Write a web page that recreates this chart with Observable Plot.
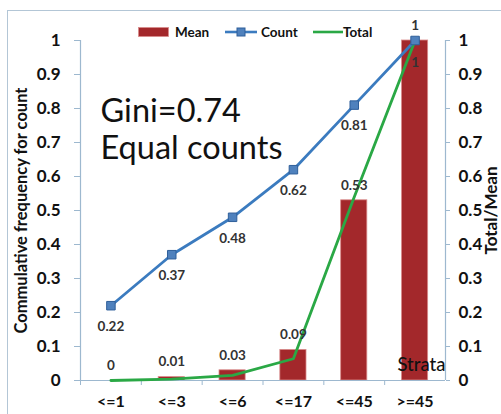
<!DOCTYPE html>
<html><head><meta charset="utf-8">
<script src="https://cdn.jsdelivr.net/npm/d3@7"></script>
<script src="https://cdn.jsdelivr.net/npm/@observablehq/plot@0.6"></script>
<style>
body{margin:0;background:#fff;}
#wrap{position:relative;width:501px;height:414px;overflow:hidden;font-family:Lato,"Open Sans",sans-serif;}
#wrap svg.plot{position:absolute;left:0;top:0;}
#border{position:absolute;left:7px;top:10px;width:520px;height:420px;border:1px solid #b3c6d6;box-sizing:border-box;}
.lg{position:absolute;font-weight:bold;font-size:13.5px;color:#111;line-height:16px;top:24px;}
.sw{position:absolute;top:25px;}
</style></head>
<body>
<div id="wrap">
  <div id="border"></div>
</div>
<script>
const strata = ["<=1", "<=3", "<=6", "<=17", "<=45", ">=45"];
const meanValues = [0, 0.01, 0.03, 0.09, 0.53, 1];
const countValues = [0.22, 0.37, 0.48, 0.62, 0.81, 1];
const totalValues = [0, 0.004, 0.015, 0.064, 0.54, 1];
const yTicks = [0, 0.1, 0.2, 0.3, 0.4, 0.5, 0.6, 0.7, 0.8, 0.9, 1];

const data = strata.map((s, i) => ({strata: s, mean: meanValues[i], count: countValues[i], total: totalValues[i]}));

const W = 501, H = 414, ML = 80, MR = 56, MT = 40, MB = 34;
const step = (W - ML - MR) / strata.length;
const axisColor = "#9db8cf";
const barColor = "#a3282b";
const countColor = "#3b7bbf";
const totalColor = "#2aa845";
const labelColor = "#333";

const chart = Plot.plot({
  width: W, height: H,
  marginLeft: ML, marginRight: MR, marginTop: MT, marginBottom: MB,
  style: {fontFamily: "Lato, 'Open Sans', sans-serif", fontSize: "12px", color: "#111", background: "transparent"},
  x: {type: "band", domain: strata, paddingInner: 0.57, paddingOuter: 0.285, round: false, axis: null},
  y: {domain: [0, 1], axis: null},
  marks: [
    Plot.barY(data, {x: "strata", y: "mean", fill: barColor, stroke: "#d98c8c", strokeWidth: 0.8}),
    Plot.ruleY([0], {stroke: axisColor, strokeWidth: 1.2}),
    Plot.ruleX([strata[0]], {dx: -step / 2, stroke: axisColor, strokeWidth: 1.2}),
    Plot.ruleX([strata[strata.length - 1]], {dx: step / 2, stroke: axisColor, strokeWidth: 1.2}),
    Plot.axisY({anchor: "left", ticks: yTicks, tickFormat: d => String(d), tickSize: 6, tickPadding: 14, fontWeight: "bold", fontSize: 17, stroke: axisColor, label: null}),
    Plot.axisY({anchor: "right", ticks: yTicks, tickFormat: d => String(d), tickSize: 4, tickPadding: 9, fontWeight: "bold", fontSize: 17, stroke: axisColor, label: null}),
    Plot.axisX({tickSize: 0, tickPadding: 15, fontWeight: "bold", fontSize: 16, label: null}),
    Plot.axisX({tickSize: 5, tickFormat: () => "", dx: -step / 2, stroke: axisColor, label: null}),
    Plot.line(data, {x: "strata", y: "total", stroke: totalColor, strokeWidth: 2.8}),
    Plot.line(data, {x: "strata", y: "count", stroke: countColor, strokeWidth: 2.8}),
    Plot.dot(data, {x: "strata", y: "count", symbol: "square", r: 4.8, fill: "#4f81bd", stroke: "#2f5f9a", strokeWidth: 1}),
    Plot.text(data, {filter: d => d.count < 1, x: "strata", y: "count", text: d => String(d.count), dy: 21, fill: labelColor, fontWeight: "bold", fontSize: 13.5}),
    Plot.text(data, {filter: d => d.count === 1, x: "strata", y: "count", text: d => String(d.count), dy: -15, fill: labelColor, fontWeight: "bold", fontSize: 13.5}),
    Plot.text(data, {filter: d => d.mean < 1, x: "strata", y: "mean", text: d => String(d.mean), dy: -15, fill: labelColor, fontWeight: "bold", fontSize: 13.5}),
    Plot.text(data, {filter: d => d.mean === 1, x: "strata", y: "mean", text: d => String(d.mean), dy: 22, fill: labelColor, fontWeight: "bold", fontSize: 13.5}),
    Plot.text(["Gini=0.74\nEqual counts"], {text: d => d, frameAnchor: "top-left", dx: 20, dy: 56, textAnchor: "start", lineAnchor: "top", fontSize: 32.5, lineHeight: 1.12, fill: "#111"}),
    Plot.text(["Strata"], {text: d => d, frameAnchor: "bottom-right", dy: -15, textAnchor: "end", lineAnchor: "middle", fontSize: 18.5, fontWeight: 500, fill: "#111"}),
    Plot.text(["Commulative frequency for count"], {text: d => d, frameAnchor: "left", dx: -59, rotate: -90, textAnchor: "middle", lineAnchor: "middle", fontWeight: "bold", fontSize: 16.5, fill: "#111"}),
    Plot.text(["Total/Mean"], {text: d => d, frameAnchor: "right", dx: 46, rotate: -90, textAnchor: "middle", lineAnchor: "middle", fontWeight: "bold", fontSize: 17, fill: "#111"})
  ]
});
const wrap = document.getElementById("wrap");
wrap.appendChild(chart);

// legend overlay
const legendItems = [
  {name: "Mean", kind: "bar", color: barColor, sx: 138, tx: 175},
  {name: "Count", kind: "lineSquare", color: countColor, sx: 225, tx: 261},
  {name: "Total", kind: "line", color: totalColor, sx: 313, tx: 343}
];
for (const it of legendItems) {
  const sw = document.createElementNS("http://www.w3.org/2000/svg", "svg");
  sw.setAttribute("class", "sw");
  sw.setAttribute("width", 34); sw.setAttribute("height", 14);
  sw.style.left = it.sx + "px";
  if (it.kind === "bar") {
    sw.innerHTML = `<rect x="0.5" y="2.5" width="30" height="9" fill="${it.color}" stroke="#d98c8c" stroke-width="0.8"/>`;
  } else if (it.kind === "lineSquare") {
    sw.innerHTML = `<line x1="0" x2="32" y1="7" y2="7" stroke="${it.color}" stroke-width="2.6"/><rect x="12" y="3" width="8" height="8" fill="#4f81bd" stroke="#2f5f9a"/>`;
  } else {
    sw.innerHTML = `<line x1="0" x2="30" y1="7" y2="7" stroke="${it.color}" stroke-width="2.6"/>`;
  }
  wrap.appendChild(sw);
  const t = document.createElement("div");
  t.className = "lg";
  t.style.left = it.tx + "px";
  t.textContent = it.name;
  wrap.appendChild(t);
}
</script>
</body></html>
